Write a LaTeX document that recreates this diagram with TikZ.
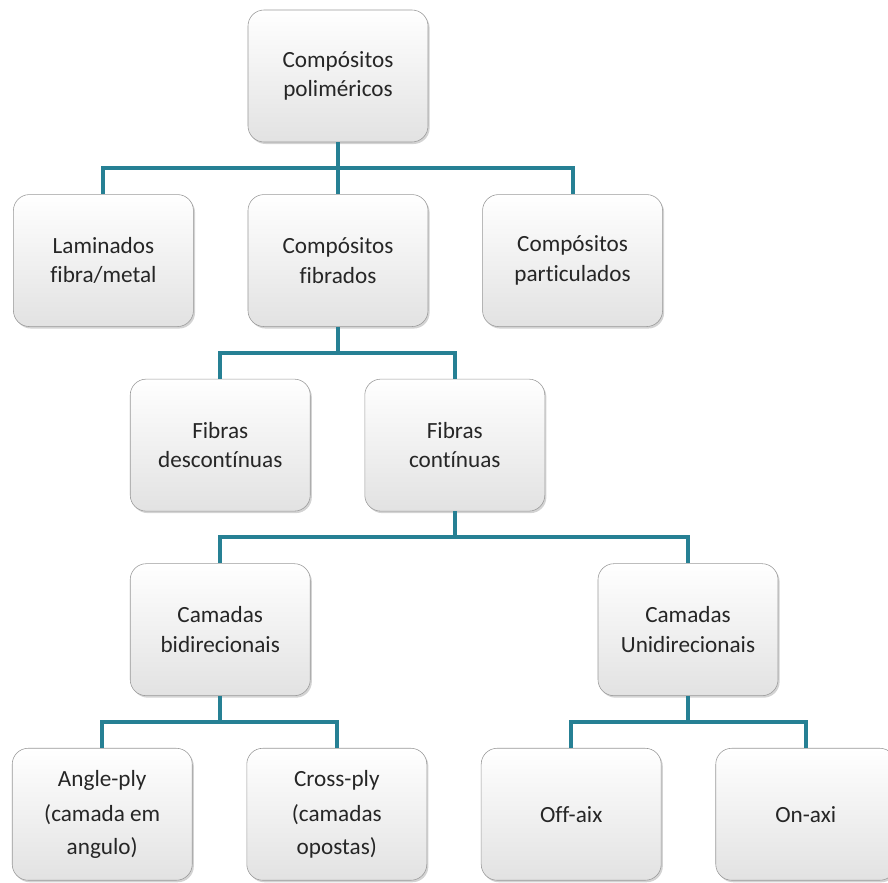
\documentclass[tikz,border=0pt]{standalone}
\usepackage{fontspec}
\setmainfont[Ligatures=CommonOff]{Carlito}
\usetikzlibrary{positioning,shadows}
\definecolor{linkteal}{RGB}{38,128,148}
\definecolor{boxgray}{RGB}{226,226,226}

\begin{document}
\begin{tikzpicture}[
    node distance=1.3cm and 1.35cm,
    box/.style ={
        rectangle,
        rounded corners=0.4cm,
        minimum width=4.5cm,
        minimum height=3.3cm,
        align=center,
        font=\fontsize{16.5}{21}\selectfont,
        text=black!85,
        top color=white,
        bottom color=boxgray,
        draw=black!40,
        drop shadow={opacity=0.35,shadow xshift=0.04cm,shadow yshift=-0.05cm}
    },
    link/.style ={
        draw=linkteal,
        line width=0.1cm
    }
    ]

    \useasboundingbox (-8.45,1.9) rectangle (13.75,-20.15);

    \node[box] (poli) {Compósitos\\poliméricos};
    \node[box] (fib) [below=of poli] {Compósitos\\fibrados};
    \node[box] (lam) [left=of fib] {Laminados\\fibra/metal};
    \node[box] (part) [right=of fib] {Compósitos\\particulados};
    \node[box] (desc) [below=of lam, xshift=2.92cm] {Fibras\\descontínuas};
    \node[box] (cont) [right=of desc] {Fibras\\contínuas};
    \node[box] (bid) [below=of desc] {Camadas\\bidirecionais};
    \node[box] (uni) [below=of cont, xshift=5.83cm] {Camadas\\Unidirecionais};
    \node[box] (ang) [below=of bid, xshift=-2.95cm] {Angle-ply\\[4pt](camada em\\[2pt]angulo)};
    \node[box] (cross) [right=of ang] {Cross-ply\\[4pt](camadas\\[2pt]opostas)};
    \node[box] (off) [below=of uni, xshift=-2.92cm] {Off-aix};
    \node[box] (on) [right=of off] {On-axi};

    \foreach \src/ \dst in {poli/lam, poli/fib, poli/part, fib/desc, fib/cont, cont/bid, cont/uni, bid/ang, bid/cross, uni/off, uni/on}
        \draw[link] (\src.south) -- ++(0,-0.65) -| (\dst.north);
\end{tikzpicture}
\end{document}
